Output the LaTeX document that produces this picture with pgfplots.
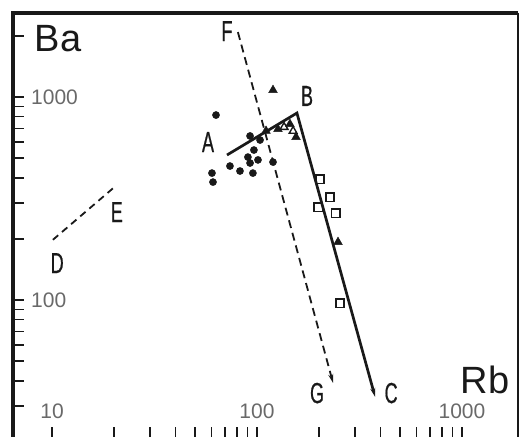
\documentclass[border=0pt]{standalone}
\usepackage{pgfplots}
\pgfplotsset{compat=1.18}
\usepackage{fontspec}
\setmainfont{Liberation Sans}
\newfontfamily\cond[FakeStretch=0.62,FakeBold=0.6]{Liberation Sans}
\usetikzlibrary{arrows.meta}
\definecolor{tickgray}{RGB}{105,105,105}
\definecolor{ink}{RGB}{25,25,25}
\begin{document}
\begin{tikzpicture}
\begin{axis}[
  xmode=log, ymode=log,
  scale only axis, width=505pt, height=424.6pt,
  xmin=6.453, xmax=1876, ymin=21, ymax=2594,
  axis line style={draw=none},
  xtick={10,100,1000}, xticklabels={10,100,1000},
  minor xtick={20,30,40,50,60,70,80,90,200,300,400,500,600,700,800,900},
  ytick={100,1000}, yticklabels={100,1000},
  minor ytick={30,40,50,60,70,80,90,200,300,400,500,600,700,800,900,2000},
  xtick pos=left, ytick pos=left,
  tick align=inside,
  major tick length=11pt, minor tick length=11pt,
  every tick/.style={ink, line width=1.6pt},
  ticklabel style={font=\fontsize{21}{21}\selectfont, text=tickgray, inner sep=0pt},
  yticklabel style={anchor=west, xshift=18pt},
  xticklabel style={anchor=center, yshift=26pt},
  clip=false,
]
\coordinate (sw) at (rel axis cs:0,0);
\coordinate (ne) at (rel axis cs:1,1);
% frame
\draw[ink, line width=3.4pt] (rel axis cs:0,-0.01) -- (rel axis cs:0,1) -- (rel axis cs:1,1);
\draw[ink, line width=1.8pt] (rel axis cs:1,1) -- (rel axis cs:1,-0.01);
% lines
\addplot[ink, line width=1.8pt, dash pattern=on 7pt off 5pt] coordinates {(10.1,198) (19.9,356)};
\addplot[ink, line width=1.8pt, dash pattern=on 8pt off 5pt, -{Stealth[length=9pt,width=5pt]}] coordinates {(80.7,2089) (235,39.0)};
\addplot[ink, line width=2.7pt, -{Stealth[length=9pt,width=5pt]}] coordinates {(71.4,518) (156.6,834) (377,33.3)};
% dots
\addplot[only marks, mark=*, mark size=3.6pt, ink] coordinates {
 (63.1,815) (92.5,643) (103.5,614) (96.6,548) (90.3,506) (101.1,490)
 (73.8,457) (82.6,432) (95.5,422) (119.7,478) (60.3,422) (61.0,381) (92.5,473)};
% filled triangles
\addplot[only marks, mark=triangle*, mark size=5pt, ink] coordinates {
 (119.7,1082) (110.7,681) (126.5,695) (144.8,736) (155,635) (248.4,193)};
% open triangles
\addplot[only marks, mark=triangle, mark size=4.5pt, ink, line width=1.4pt] coordinates {
 (135.5,711) (150,680)};
% open squares
\addplot[only marks, mark=square, mark size=4.2pt, ink, line width=1.5pt] coordinates {
 (202.8,394) (227,321) (198.7,287) (242.7,268) (254,96.6)};
% letters
\begin{scope}[every node/.style={inner sep=0pt, text=ink, font=\cond\fontsize{29}{29}\selectfont}]
\node at (axis cs:71.4,2113) {F};
\node at (axis cs:57.7,600) {A};
\node at (axis cs:175.4,1012) {B};
\node at (axis cs:20.7,271) {E};
\node at (axis cs:10.6,152) {D};
\node at (axis cs:196.4,34.8) {G};
\node at (axis cs:451,34.8) {C};
\end{scope}
\node[inner sep=0pt, text=ink, font=\fontsize{38}{38}\selectfont] at (axis cs:10.7,1931) {Ba};
\node[inner sep=0pt, text=ink, font=\fontsize{38}{38}\selectfont] at (axis cs:1294,40.4) {Rb};
\end{axis}
\pgfresetboundingbox
\path[use as bounding box] ([shift={(-13pt,1.6pt)}]sw) rectangle ([shift={(2pt,13pt)}]ne);
\end{tikzpicture}
\end{document}
